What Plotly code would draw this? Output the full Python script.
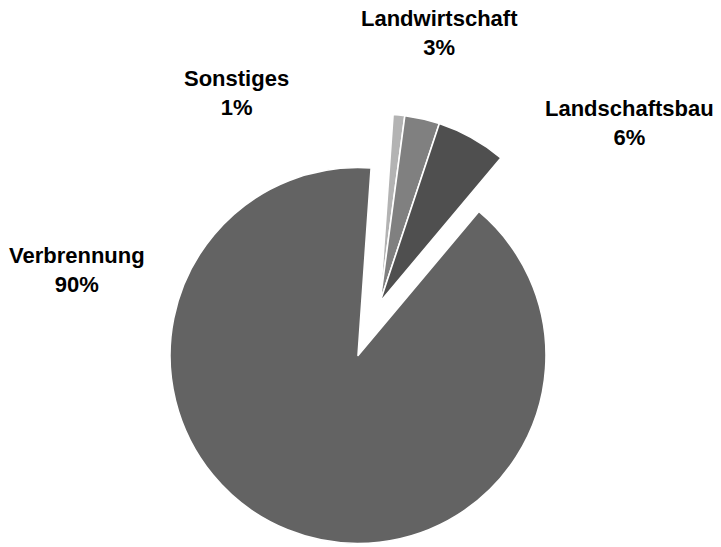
import plotly.graph_objects as go

categories = ["Sonstiges", "Landwirtschaft", "Landschaftsbau", "Verbrennung"]
values = [1, 3, 6, 90]
colors = ["#b3b3b3", "#808080", "#4f4f4f", "#636363"]
exploded = [True, True, True, False]

W, H = 721, 547
R = 188
main_center = (358, 355.5)
pulled_center = (380, 302)


def domain_for(cx, cy):
    return dict(
        x=[(cx - R) / W, (cx + R) / W],
        y=[(H - cy - R) / H, (H - cy + R) / H],
    )


def trace(show_exploded, center):
    cols = [c if (e == show_exploded) else "rgba(0,0,0,0)" for c, e in zip(colors, exploded)]
    lw = [1.6 if (e == show_exploded) else 0 for e in exploded]
    return go.Pie(
        labels=categories,
        values=values,
        sort=False,
        direction="clockwise",
        rotation=4,
        marker=dict(colors=cols, line=dict(color="white", width=lw)),
        textinfo="none",
        hoverinfo="label+percent",
        domain=domain_for(*center),
        showlegend=False,
    )


fig = go.Figure()
fig.add_trace(trace(False, main_center))
fig.add_trace(trace(True, pulled_center))

label_pos = {
    "Verbrennung": (77, 270),
    "Sonstiges": (236, 93),
    "Landwirtschaft": (440, 33),
    "Landschaftsbau": (629, 123),
}
total = sum(values)
for cat, v in zip(categories, values):
    px, py = label_pos[cat]
    fig.add_annotation(
        x=px / W, y=1 - py / H, xref="paper", yref="paper",
        xanchor="center", yanchor="middle", showarrow=False,
        text=f"<b>{cat}<br>{round(100 * v / total)}%</b>",
        font=dict(family="Liberation Sans, Arial, sans-serif", size=22, color="black"),
        align="center",
    )

fig.update_layout(
    width=W, height=H,
    margin=dict(l=0, r=0, t=0, b=0),
    paper_bgcolor="white", plot_bgcolor="white",
)
fig.write_html("out.html")
